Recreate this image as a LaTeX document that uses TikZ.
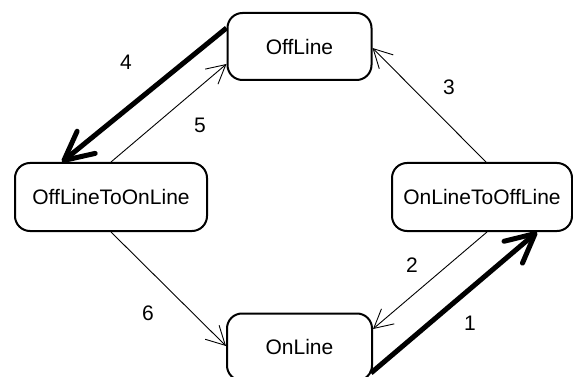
\documentclass[tikz,border=0pt]{standalone}
\usepackage{fontspec}
\setmainfont{Liberation Sans}
\usetikzlibrary{shapes,arrows.meta}

\begin{document}
\begin{tikzpicture}[x=1pt,y=-1pt,
      every node/.style={font=\fontsize{21}{25}\selectfont,inner sep=0pt},
      state/.style={rectangle,draw,line width=2pt,rounded corners=15pt,minimum height=67pt},
      trans/.style={line width=0.9pt,-{Straight Barb[angle=56:21pt]}},
      busy/.style={line width=5pt,-{Straight Barb[angle=53:32pt,round]}}]
    \useasboundingbox (0,0) rectangle (573,377);
    % states
    \node[state,minimum width=144pt] (offline) at (299.5,46.5) {OffLine};
    \node[state,minimum width=192pt,minimum height=68pt] (offon) at (111,197) {OffLineToOnLine};
    \node[state,minimum width=180pt,minimum height=68pt] (onoff) at (482,197) {OnLineToOffLine};
    \node[state,minimum width=145pt] (online) at (299.5,347) {OnLine};
    % transitions
    \draw[busy] ([yshift=18.5pt]offline.west) -- ([xshift=-49pt]offon.north);
    \draw[trans] (offon.north) -- ([yshift=-17.5pt]offline.west);
    \draw[trans] ([xshift=4pt]onoff.north) -- ([yshift=-1.5pt]offline.east);
    \draw[trans] ([xshift=5pt]onoff.south) -- ([yshift=18pt]online.east);
    \draw[busy] ([xshift=-2pt,yshift=-26pt]online.east) -- ([xshift=55pt]onoff.south);
    \draw[trans] (offon.south) -- ([yshift=1pt]online.west);
    % labels
    \node (l1) at (470,323) {1};
    \node (l2) at (412,265) {2};
    \node (l3) at (449,87) {3};
    \node (l4) at (126,62) {4};
    \node (l5) at (200,125) {5};
    \node (l6) at (148,313) {6};
  \end{tikzpicture}
\end{document}
